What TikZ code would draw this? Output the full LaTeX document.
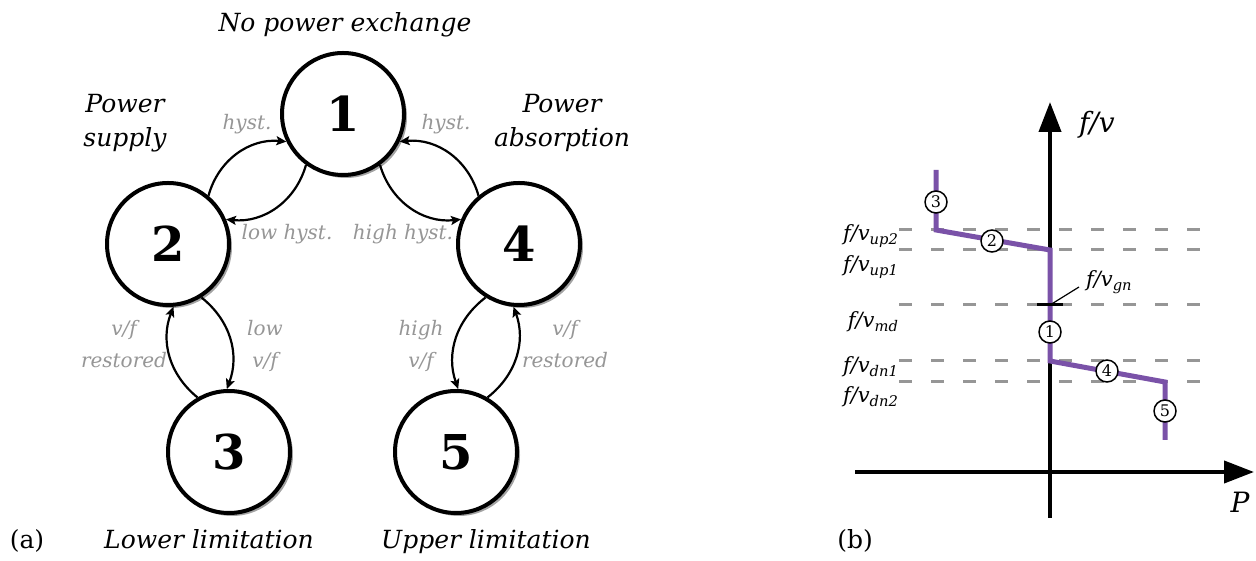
\documentclass[tikz,border=0pt]{standalone}
\usepackage{fontspec}
\setmainfont{DejaVu Serif}
\usetikzlibrary{arrows.meta,shadows}
\definecolor{curvepurple}{RGB}{122,82,168}
\definecolor{hintgray}{RGB}{150,150,150}

\begin{document}
\begin{tikzpicture}[x=0.5pt, y=0.5pt, >={Stealth[length=5pt,width=4.5pt,inset=1pt]}]
\useasboundingbox (0,0) rectangle (1256,561);

   % (a) state machine
   \begin{scope}[every node/.style={circle,draw=black,line width=2pt,fill=white,minimum size=61pt,inner sep=0pt,font=\bfseries\fontsize{24}{24}\selectfont,drop shadow={shadow xshift=1.5pt,shadow yshift=-1.5pt,fill=black!60,opacity=0.6}}]
    \node (s1) at (343,447) {1};
    \node (s2) at (168,317) {2};
    \node (s3) at (229,109) {3};
    \node (s4) at (519,317) {4};
    \node (s5) at (456,109) {5};
   \end{scope}
   \begin{scope}[every edge/.style={draw=black,line width=1.1pt,->}]
\draw (s2.50) edge[bend left=40] (s1.206);
\draw (s1.234) edge[bend left=40] (s2.23);
\draw (s1.306) edge[bend right=40] (s4.157);
\draw (s4.130) edge[bend right=40] (s1.334);
\draw (s2.302) edge[bend left=36] (s3.92);
\draw (s3.120) edge[bend left=36] (s2.275);
\draw (s4.238) edge[bend right=36] (s5.88);
\draw (s5.60) edge[bend right=36] (s4.265);
   \end{scope}
   \begin{scope}[every node/.style={anchor=base,font=\itshape\fontsize{12.5}{15}\selectfont}]
    \node (t1) at (345,529) {No power exchange};
    \node (t2a) at (125,448) {Power};
    \node (t2b) at (125,414) {supply};
    \node (t4a) at (562,448) {Power};
    \node (t4b) at (562,414) {absorption};
    \node (t3) at (209,12) {Lower limitation};
    \node (t5) at (486,12) {Upper limitation};
   \end{scope}
   \begin{scope}[every node/.style={anchor=base,text=hintgray,font=\itshape\fontsize{10}{12}\selectfont}]
    \node (h21) at (247,431) {hyst.};
    \node (h41) at (446,431) {hyst.};
    \node (h12) at (287,321) {low hyst.};
    \node (h14) at (403,321) {high hyst.};
    \node (h32a) at (124,225) {v/f};
    \node (h32b) at (124,193) {restored};
    \node (h23a) at (265,225) {low};
    \node (h23b) at (265,193) {v/f};
    \node (h45a) at (421,225) {high};
    \node (h45b) at (421,193) {v/f};
    \node (h54a) at (565,225) {v/f};
    \node (h54b) at (565,193) {restored};
   \end{scope}
   \node[anchor=base,font=\fontsize{12.5}{15}\selectfont] (tagA) at (27,12) {(a)};

   % (b) characteristic
   \foreach \lev in {331,311,256,200,179}
    \draw[hintgray,line width=1.5pt,dash pattern=on 6.5pt off 9.5pt] (899,\lev) -- (1205,\lev);
   \draw[line width=2pt,-{Triangle[length=15pt,width=11pt]}] (1050,43) -- (1050,459);
   \draw[line width=2pt,-{Triangle[length=15pt,width=11pt]}] (855,89) -- (1254,89);
   \draw[curvepurple,line width=2.5pt] (936,391) -- (936,331) -- (1050,311) -- (1050,200) -- (1165,179) -- (1165,121);
   \draw[line width=1.5pt] (1037,256) -- (1063,256);
   \coordinate (gn) at (1050,256);
   \node[anchor=base west,font=\itshape\fontsize{10.5}{12}\selectfont] (lgn) at (1079,274) {f/v\textsubscript{gn}};
   \draw[line width=0.6pt] (gn) -- (lgn.base west);
   \begin{scope}[every node/.style={circle,draw=black,line width=0.75pt,fill=white,minimum size=11pt,inner sep=0pt,font=\fontsize{8}{8}\selectfont}]
    \node (m3) at (936,359) {3};
    \node (m2) at (992,320) {2};
    \node (m1) at (1050,229) {1};
    \node (m4) at (1107,190) {4};
    \node (m5) at (1165,150) {5};
   \end{scope}
   \begin{scope}[every node/.style={anchor=base east,font=\itshape\fontsize{10.5}{12}\selectfont}]
    \node (up2) at (906,320) {f/v\textsubscript{up2}};
    \node (up1) at (906,289) {f/v\textsubscript{up1}};
    \node (md) at (906,233) {f/v\textsubscript{md}};
    \node (dn1) at (906,188) {f/v\textsubscript{dn1}};
    \node (dn2) at (906,158) {f/v\textsubscript{dn2}};
   \end{scope}
   \node[anchor=base west,font=\itshape\fontsize{14}{16}\selectfont] (yl) at (1072,428) {f/v};
   \node[anchor=base,font=\itshape\fontsize{14}{16}\selectfont] (xl) at (1240,48) {P};
   \node[anchor=base,font=\fontsize{12.5}{15}\selectfont] (tagB) at (855,12) {(b)};
\end{tikzpicture}
\end{document}
